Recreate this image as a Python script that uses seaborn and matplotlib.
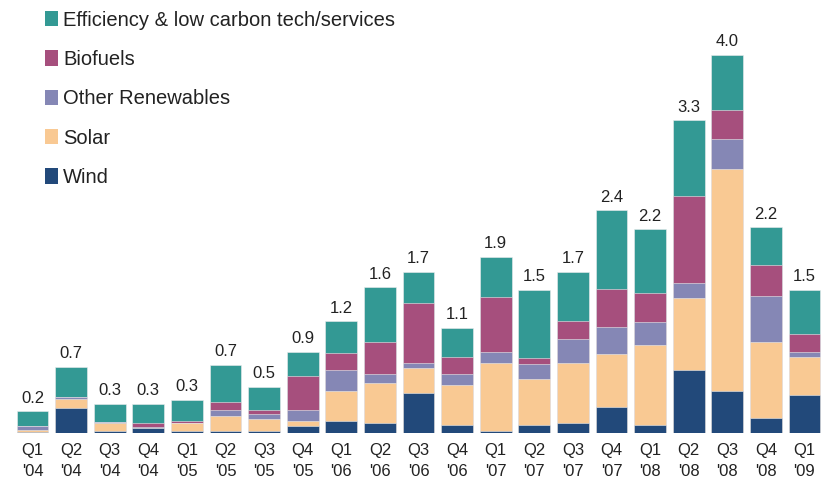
import pandas as pd
import matplotlib.pyplot as plt
import seaborn as sns
import numpy as np
from matplotlib.patches import Patch

# =========================
# 1. Data ($bn per quarter)
# =========================
quarters = ["Q1\n'04", "Q2\n'04", "Q3\n'04", "Q4\n'04",
            "Q1\n'05", "Q2\n'05", "Q3\n'05", "Q4\n'05",
            "Q1\n'06", "Q2\n'06", "Q3\n'06", "Q4\n'06",
            "Q1\n'07", "Q2\n'07", "Q3\n'07", "Q4\n'07",
            "Q1\n'08", "Q2\n'08", "Q3\n'08", "Q4\n'08",
            "Q1\n'09"]

wind = [0.01, 0.26, 0.02, 0.05, 0.02, 0.02, 0.02, 0.07, 0.13, 0.11, 0.42,
        0.08, 0.02, 0.08, 0.11, 0.27, 0.08, 0.66, 0.44, 0.16, 0.40]
solar = [0.02, 0.10, 0.09, 0.00, 0.09, 0.16, 0.13, 0.06, 0.31, 0.42, 0.27,
         0.43, 0.72, 0.49, 0.63, 0.56, 0.85, 0.77, 2.35, 0.80, 0.40]
other = [0.04, 0.02, 0.01, 0.01, 0.00, 0.06, 0.05, 0.11, 0.22, 0.09, 0.05,
         0.11, 0.11, 0.16, 0.25, 0.29, 0.24, 0.15, 0.31, 0.49, 0.06]
biofuels = [0.00, 0.00, 0.00, 0.05, 0.02, 0.09, 0.04, 0.36, 0.18, 0.34, 0.63,
            0.18, 0.59, 0.06, 0.19, 0.40, 0.31, 0.92, 0.31, 0.32, 0.18]
efficiency = [0.16, 0.32, 0.19, 0.20, 0.22, 0.39, 0.25, 0.26, 0.34, 0.58, 0.33,
              0.31, 0.42, 0.72, 0.52, 0.83, 0.67, 0.80, 0.58, 0.40, 0.47]
total_labels = ["0.2", "0.7", "0.3", "0.3", "0.3", "0.7", "0.5", "0.9", "1.2",
                "1.6", "1.7", "1.1", "1.9", "1.5", "1.7", "2.4", "2.2", "3.3",
                "4.0", "2.2", "1.5"]

series = ["Wind", "Solar", "Other Renewables", "Biofuels",
          "Efficiency & low carbon tech/services"]
colors = ["#22497A", "#F9C993", "#8587B5", "#A64F7D", "#339994"]

df = pd.DataFrame({"Quarter": quarters, "Wind": wind, "Solar": solar,
                   "Other Renewables": other, "Biofuels": biofuels,
                   "Efficiency & low carbon tech/services": efficiency})

# cumulative tops for stacking
cum = df[series].cumsum(axis=1)

# =========================
# 2. Plot
# =========================
sns.set_theme(style="white")
plt.rcParams["font.family"] = ["Liberation Sans", "DejaVu Sans"]

fig = plt.figure(figsize=(8.23, 4.82), dpi=100)
ax = fig.add_axes([0, 49 / 482, 1, 433 / 482])

# draw from the tallest stack down so each layer covers the one below
for name, col in reversed(list(zip(series, colors))):
    sns.barplot(x=df["Quarter"], y=cum[name], color=col, width=0.82,
                edgecolor="#EDEDED", linewidth=0.4, ax=ax, saturation=1)

# total labels
for i, lab in enumerate(total_labels):
    ax.annotate(lab, (i, cum[series[-1]].iloc[i]), xytext=(0, 4),
                textcoords="offset points", ha="center", va="bottom",
                fontsize=12, color="#222222")

ax.set_ylim(0, 4.57)
ax.set_xlim(-0.842, 20.48)
ax.set_xlabel("")
ax.set_ylabel("")
ax.set_yticks([])
ax.tick_params(axis="x", length=0, pad=7, labelsize=12, labelcolor="#222222")
for lbl in ax.get_xticklabels():
    lbl.set_linespacing(1.5)
sns.despine(ax=ax, left=True, bottom=True)

# legend (top entry first)
handles = [Patch(facecolor=c, edgecolor="none") for c in reversed(colors)]
ax.legend(handles, list(reversed(series)), loc="upper left",
          bbox_to_anchor=(0.045, 0.994), borderaxespad=0, frameon=False,
          fontsize=14.5, handlelength=0.65, handleheight=0.8,
          handletextpad=0.25, labelspacing=1.01, labelcolor="#222222")

plt.savefig("out.png", dpi=100)
